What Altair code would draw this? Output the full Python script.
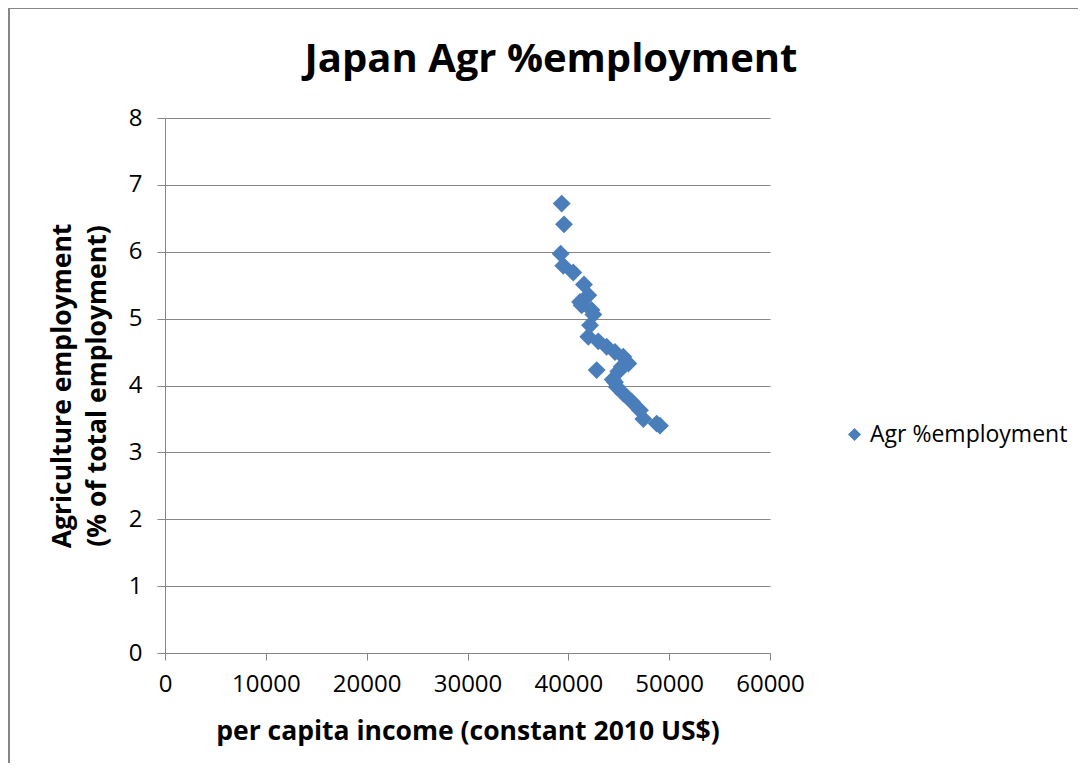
import altair as alt
import pandas as pd

income = [39340, 39570, 39240, 39500, 40490, 41550, 41980, 41160, 41320, 42300,
          42480, 42150, 41980, 42970, 43800, 44630, 45450, 45950, 45290, 44960,
          42810, 44630, 44400, 44790, 45450, 46280, 47100, 47440, 48760, 49090]
agr = [6.72, 6.41, 5.97, 5.79, 5.69, 5.51, 5.35, 5.25, 5.20, 5.13,
       5.06, 4.90, 4.73, 4.66, 4.58, 4.50, 4.43, 4.33, 4.28, 4.21,
       4.23, 4.05, 4.09, 3.98, 3.88, 3.76, 3.63, 3.50, 3.43, 3.40]
series = ["Agr %employment"] * len(income)
x_ticks = [0, 10000, 20000, 30000, 40000, 50000, 60000]
y_ticks = [0, 1, 2, 3, 4, 5, 6, 7, 8]
title_text = ["Japan Agr %employment"]

df = pd.DataFrame({"income": income, "agr": agr, "series": series})
tdf = pd.DataFrame({"t": title_text})

FONT = "Open Sans"
GRAY = "#868686"

points = alt.Chart(df).mark_point(
    shape="diamond", filled=True, size=320, opacity=1
).encode(
    x=alt.X("income:Q", scale=alt.Scale(domain=[0, 60000], nice=False),
            axis=alt.Axis(values=x_ticks, format="d", grid=False,
                          title="per capita income (constant 2010 US$)",
                          titleFont=FONT, titleFontSize=26.5, titleFontWeight="bold",
                          titleColor="black", titlePadding=22,
                          labelFont=FONT, labelFontSize=24, labelColor="black",
                          labelPadding=12, tickSize=7, tickColor=GRAY,
                          domainColor=GRAY, labelFlush=False)),
    y=alt.Y("agr:Q", scale=alt.Scale(domain=[0, 8], nice=False),
            axis=alt.Axis(values=y_ticks, grid=True, gridColor=GRAY,
                          title=["Agriculture employment", "(% of total employment)"],
                          titleFont=FONT, titleFontSize=26.5, titleFontWeight="bold",
                          titleColor="black", titlePadding=17, titleLineHeight=35,
                          labelFont=FONT, labelFontSize=24, labelColor="black",
                          labelPadding=15, tickSize=8, tickColor=GRAY,
                          domainColor=GRAY)),
    color=alt.Color("series:N", scale=alt.Scale(range=["#4A7EBB"]),
                    legend=alt.Legend(title=None, orient="none", legendX=678, legendY=305,
                                      symbolType="diamond", symbolSize=170,
                                      symbolOpacity=1, symbolFillColor="#4A7EBB",
                                      symbolStrokeWidth=0, labelLimit=400,
                                      labelFont=FONT, labelFontSize=23, labelColor="black",
                                      padding=0, labelOffset=4)),
)

title = alt.Chart(tdf).mark_text(
    font=FONT, fontSize=40, fontWeight="bold", color="black",
    align="center", baseline="middle"
).encode(text="t:N", x=alt.value(386), y=alt.value(-58))

border = alt.Chart(tdf).mark_rule(color=GRAY, strokeWidth=2).encode(
    x=alt.value(-156), y=alt.value(-110), y2=alt.value(660)
)
border_top = alt.Chart(tdf).mark_rule(color=GRAY, strokeWidth=2).encode(
    x=alt.value(-156), x2=alt.value(915), y=alt.value(-110)
)

chart = alt.layer(border, border_top, title, points).properties(
    width=605, height=535,
    autosize=alt.AutoSizeParams(type="none"),
    padding={"left": 157, "top": 110, "right": 308, "bottom": 110},
).configure_view(stroke=None)

chart.save("out.html", embed_options={"renderer": "svg", "actions": False})
